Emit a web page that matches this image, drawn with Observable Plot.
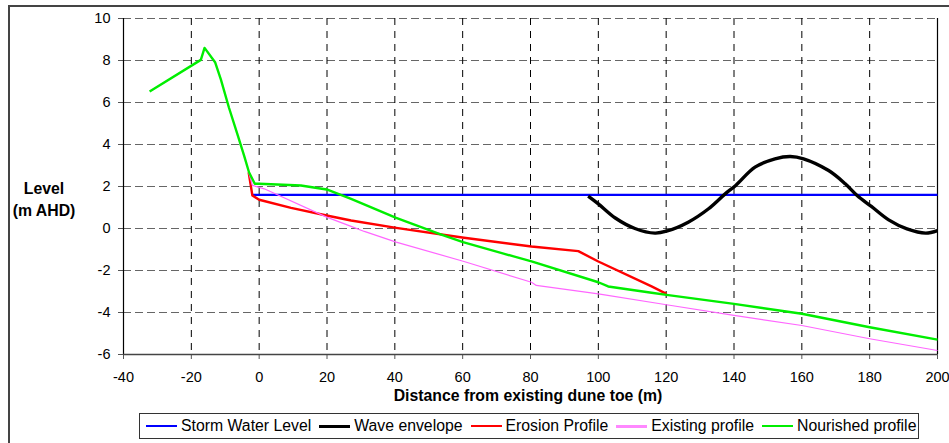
<!DOCTYPE html>
<html>
<head>
<meta charset="utf-8">
<script src="https://cdn.jsdelivr.net/npm/d3@7"></script>
<script src="https://cdn.jsdelivr.net/npm/@observablehq/plot@0.6"></script>
<style>
  html, body { margin: 0; padding: 0; background: #fff; }
  body { width: 949px; height: 443px; position: relative; overflow: hidden; font-family: "Liberation Sans", Arial, sans-serif; }
  #frame { position: absolute; left: 8px; top: 5px; width: 960px; height: 460px; border-top: 2px solid #444; border-left: 2px solid #444; box-sizing: border-box; }
  #chart { position: absolute; left: 0; top: 0; }
  .title { position: absolute; font-weight: bold; font-size: 15.8px; color: #000; white-space: nowrap; }
  #xtitle { left: 528px; top: 387px; transform: translateX(-50%); }
  #ytitle { left: 44px; top: 178px; transform: translateX(-50%); text-align: center; line-height: 22px; }
  #legend { position: absolute; left: 139px; top: 413px; width: 780px; height: 26px; border: 1px solid #333; box-sizing: border-box; display: flex; align-items: center; padding-left: 6px; font-size: 15.8px; }
  .item { display: flex; align-items: center; margin-right: 8px; white-space: nowrap; }
  .sw { width: 31px; margin-right: 4px; }
</style>
</head>
<body>
<div id="frame"></div>
<div id="chart"></div>
<div class="title" id="xtitle">Distance from existing dune toe (m)</div>
<div class="title" id="ytitle">Level<br>(m AHD)</div>
<div id="legend"></div>
<script>
// ---- data ----
const xTicks = [-40, -20, 0, 20, 40, 60, 80, 100, 120, 140, 160, 180, 200];
const yTicks = [-6, -4, -2, 0, 2, 4, 6, 8, 10];

const seriesNames = ["Storm Water Level", "Wave envelope", "Erosion Profile", "Existing profile", "Nourished profile"];
const seriesColors = ["#0000ff", "#000000", "#ff0000", "#ff66ff", "#00ee00"];
const seriesWidths = [2.2, 3.4, 2.4, 1.2, 2.4];

const stormX = [-2, 200];
const stormY = [1.6, 1.6];

const waveX = [97, 100, 105, 110.8, 116.7, 120.1, 126.5, 132.5, 137.4, 140.5, 146.2, 152.1, 156.6, 160.5, 167.9, 172.8, 176.3, 180.5, 185.6, 191, 196.5, 200];
const waveY = [1.54, 1.17, 0.5, 0.0, -0.22, -0.13, 0.3, 0.94, 1.65, 2.05, 2.92, 3.32, 3.43, 3.32, 2.76, 2.13, 1.57, 1.05, 0.41, -0.02, -0.22, -0.1];

const erosionX = [-3.1, -2, 0, 9.4, 19.9, 27.1, 40.4, 60.4, 80.3, 94.1, 100, 115.7, 120.1];
const erosionY = [2.68, 1.57, 1.37, 0.98, 0.62, 0.38, 0.03, -0.44, -0.86, -1.08, -1.57, -2.76, -3.11];

const existingX = [-3.1, -2, 1.5, 19.9, 27.1, 31, 40.4, 60.4, 80.3, 81.7, 100, 120.1, 140, 160, 180, 200];
const existingY = [2.68, 2.05, 1.89, 0.54, 0.1, -0.14, -0.65, -1.57, -2.56, -2.71, -3.11, -3.63, -4.14, -4.62, -5.25, -5.81];

const nourishedX = [-32.3, -17.2, -16.1, -13, -11.3, -8.9, -6.4, -4.4, -3.0, -1.3, 0, 12.3, 19.9, 27.1, 40.4, 53.7, 60.1, 80.3, 100, 102.9, 115.7, 120.1, 140, 160, 180, 200];
const nourishedY = [6.52, 8.03, 8.6, 7.92, 7.1, 5.75, 4.48, 3.45, 2.68, 2.13, 2.13, 2.05, 1.86, 1.41, 0.51, -0.29, -0.65, -1.57, -2.56, -2.76, -3.06, -3.16, -3.59, -4.06, -4.70, -5.29];

const series = [
  [stormX, stormY],
  [waveX, waveY],
  [erosionX, erosionY],
  [existingX, existingY],
  [nourishedX, nourishedY]
];

const fmt = d => String(d);

const lineMarks = series.map(([xs, ys], i) =>
  Plot.line(d3.zip(xs, ys), {x: "0", y: "1", stroke: seriesColors[i], strokeWidth: seriesWidths[i], strokeLinejoin: "round", strokeLinecap: "butt", curve: i === 1 ? "catmull-rom" : "linear"})
);

const chart = Plot.plot({
  width: 949,
  height: 405,
  marginLeft: 123,
  marginRight: 12,
  marginTop: 18,
  marginBottom: 51,
  x: {domain: [-40, 200]},
  y: {domain: [-6, 10]},
  style: {fontFamily: "'Liberation Sans', Arial, sans-serif", fontSize: "14px", color: "#000", background: "transparent"},
  marks: [
    Plot.ruleY(yTicks.filter(d => d > -6), {stroke: "#666", strokeWidth: 1.2, strokeDasharray: "8,4"}),
    Plot.ruleX(xTicks.filter(d => d > -40 && d < 200), {stroke: "#000", strokeWidth: 1, strokeDasharray: "7,6"}),
    Plot.axisY({ticks: yTicks, tickSize: 5, tickPadding: 8, tickFormat: fmt, label: null, fontSize: 14.5, stroke: "#555"}),
    Plot.axisX({ticks: xTicks, tickSize: 5, tickPadding: 12, tickFormat: fmt, label: null, fontSize: 14.5, stroke: "#555"}),
    Plot.ruleX([-40], {stroke: "#000", strokeWidth: 1.2}),
    Plot.ruleX([200], {stroke: "#000", strokeWidth: 1.2}),
    Plot.ruleY([-6], {stroke: "#444", strokeWidth: 1.6}),
    ...lineMarks
  ]
});
document.getElementById("chart").appendChild(chart);

// legend
const legend = document.getElementById("legend");
seriesNames.forEach((name, i) => {
  const item = document.createElement("div");
  item.className = "item";
  const sw = document.createElement("div");
  sw.className = "sw";
  sw.style.borderTop = `${i === 1 || i === 3 ? 3 : 2}px solid ${i === 3 ? "#ff88ff" : seriesColors[i]}`;
  const label = document.createElement("span");
  label.textContent = name;
  item.appendChild(sw);
  item.appendChild(label);
  legend.appendChild(item);
});
</script>
</body>
</html>
